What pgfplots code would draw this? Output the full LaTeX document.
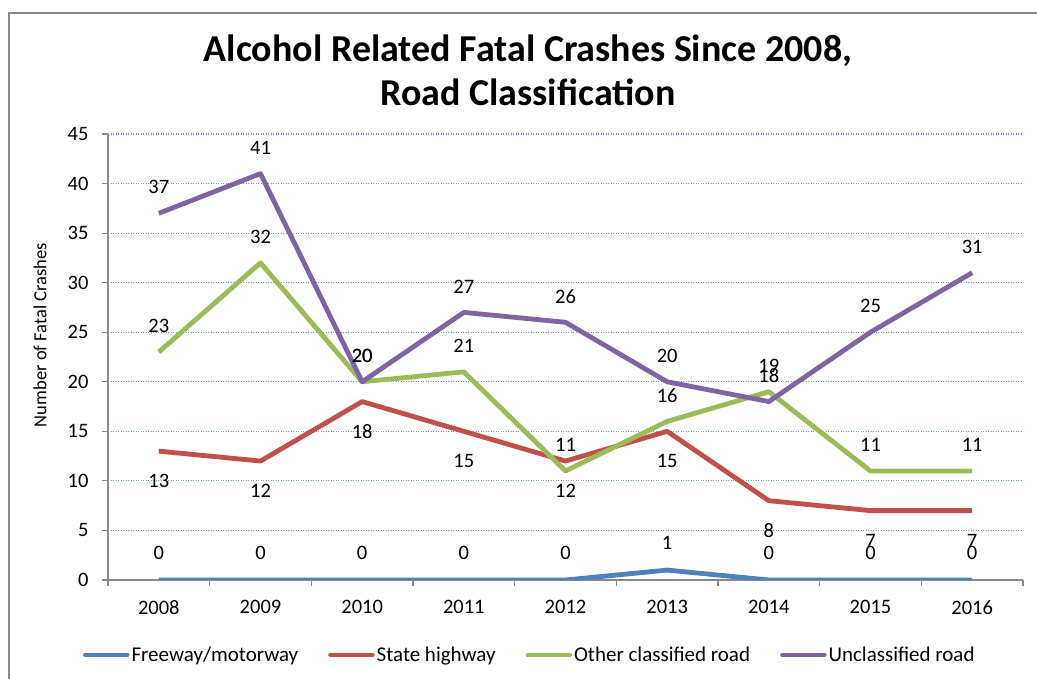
\documentclass[border=0pt]{standalone}
\usepackage{pgfplots}
\pgfplotsset{compat=1.18}
\usepackage{fontspec}
\setmainfont{Carlito}
\definecolor{cblue}{HTML}{4F81BD}
\definecolor{cred}{HTML}{C0504D}
\definecolor{cgreen}{HTML}{9BBB59}
\definecolor{cpurple}{HTML}{8064A2}
\definecolor{cgrid}{HTML}{6F95CC}
\definecolor{caxis}{HTML}{8A8A8A}
\begin{document}
\begin{tikzpicture}
\path[use as bounding box] (0,0) rectangle (1037pt,679pt);
\draw[caxis, line width=1.5pt] (9pt,0pt) -- (9pt,666pt) -- (1037pt,666pt);
\begin{axis}[
  at={(108pt,99pt)}, anchor=south west,
  scale only axis, width=915pt, height=446pt,
  xmin=-0.5, xmax=8.5, ymin=0, ymax=45,
  axis lines*=left,
  axis line style={-, draw=caxis, line width=1.2pt},
  tick align=outside,
  xtick={0,...,8},
  xticklabels={2008,2009,2010,2011,2012,2013,2014,2015,2016},
  major x tick style={draw=none},
  minor xtick={-0.5,0.5,...,8.5},
  minor tick length=6pt,
  major tick length=6pt,
  every tick/.style={draw=caxis, line width=1.2pt},
  ytick={0,5,...,45},
  ymajorgrids,
  major grid style={draw=cgrid, line width=1.2pt, dash pattern=on 1.3pt off 1.2pt},
  /pgf/number format/assume math mode=true,
  tick label style={font=\fontsize{20.5}{24}\selectfont},
  xticklabel style={yshift=-11pt},
  yticklabel style={xshift=-10pt},
  ylabel={Number of Fatal Crashes},
  ylabel style={at={(axis description cs:-0.0743,0.549)}, anchor=center, font=\fontsize{18.5}{22}\selectfont},
  title={Alcohol Related Fatal Crashes Since 2008,\\Road Classification},
  title style={at={(axis description cs:0.459,1.13)}, anchor=center, align=center, font=\fontsize{38}{44}\selectfont\bfseries},
  legend columns=4,
  legend style={at={(0.461,-0.168)}, anchor=center, draw=none, fill=none,
    font=\fontsize{21}{25}\selectfont,
    /tikz/every even column/.append style={column sep=28pt},
    /tikz/every odd column/.append style={column sep=0pt}},
  legend image code/.code={\draw[#1, line width=4.5pt, line cap=round] (0pt,0pt) -- (42pt,0pt);},
  nodes near coords,
  nodes near coords style={font=\fontsize{20.5}{24}\selectfont, text=black, anchor=center, /pgf/number format/assume math mode=true},
  point meta=y,
  every axis plot/.append style={line width=4.8pt, line join=round, no marks},
]
\addplot[cblue, nodes near coords style={yshift=27pt}] coordinates {(0,0)(1,0)(2,0)(3,0)(4,0)(5,1)(6,0)(7,0)(8,0)};
\addlegendentry{Freeway/motorway}
\addplot[cred, nodes near coords style={yshift=-30pt}] coordinates {(0,13)(1,12)(2,18)(3,15)(4,12)(5,15)(6,8)(7,7)(8,7)};
\addlegendentry{State highway}
\addplot[cgreen, nodes near coords style={yshift=26pt}] coordinates {(0,23)(1,32)(2,20)(3,21)(4,11)(5,16)(6,19)(7,11)(8,11)};
\addlegendentry{Other classified road}
\addplot[cpurple, nodes near coords style={yshift=26pt}] coordinates {(0,37)(1,41)(2,20)(3,27)(4,26)(5,20)(6,18)(7,25)(8,31)};
\addlegendentry{Unclassified road}
\end{axis}
\end{tikzpicture}
\end{document}
